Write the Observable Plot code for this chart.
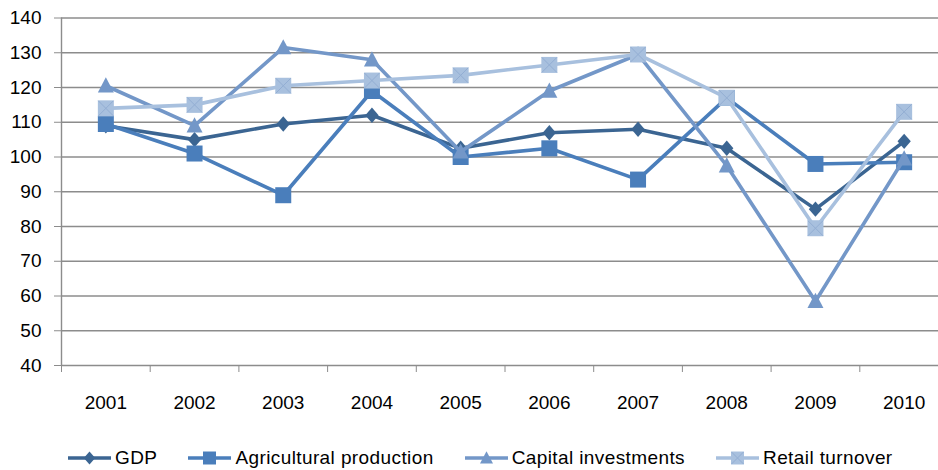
<!DOCTYPE html>
<html><head><meta charset="utf-8">
<script src="https://cdn.jsdelivr.net/npm/d3@7"></script>
<script src="https://cdn.jsdelivr.net/npm/@observablehq/plot@0.6"></script>
<style>
body{margin:0;background:#fff;font-family:"Liberation Sans",Arial,sans-serif;overflow:hidden;}
#chart svg{display:block;overflow:hidden;}
#legend{display:flex;align-items:center;height:30px;padding-top:13px;padding-left:68px;gap:31px;font-size:19px;letter-spacing:0.4px;color:#000;}
.item{display:flex;align-items:center;gap:4px;white-space:nowrap;}
</style></head><body><div id="chart"></div><div id="legend"></div>
<script>
const years = [2001, 2002, 2003, 2004, 2005, 2006, 2007, 2008, 2009, 2010];
const gdp = [109, 105, 109.5, 112, 102.5, 107, 108, 102.5, 85, 104.5];
const agri = [109.5, 101, 89, 119, 100, 102.5, 93.5, 117, 98, 98.5];
const capital = [120.5, 109, 131.5, 128, 101.5, 119, 129.5, 97.5, 58.5, 99.5];
const retail = [114, 115, 120.5, 122, 123.5, 126.5, 129.5, 117, 79.5, 113];
const seriesNames = ["GDP", "Agricultural production", "Capital investments", "Retail turnover"];
const seriesColors = ["#3B6592", "#4A7EBB", "#7397C8", "#A8C0DE"];
const yTicks = [40, 50, 60, 70, 80, 90, 100, 110, 120, 130, 140];

const seriesValues = [gdp, agri, capital, retail];
const rows = seriesValues.map((vals, i) => years.map((year, j) => ({year, value: vals[j], series: seriesNames[i]})));
const bounds = years.map(y => y - 0.5).concat([years[years.length - 1] + 0.5]);

// custom symbols (size = pi r^2)
const rad = size => Math.sqrt(size / Math.PI);
const diamond = {draw(c, s){const r = rad(s); c.moveTo(0,-r*1.1); c.lineTo(r*0.95,0); c.lineTo(0,r*1.1); c.lineTo(-r*0.95,0); c.closePath();}};
const square = {draw(c, s){const r = rad(s); c.rect(-r,-r,2*r,2*r);}};
const triangle = {draw(c, s){const r = rad(s); c.moveTo(0,-r*1.05); c.lineTo(r,r*0.85); c.lineTo(-r,r*0.85); c.closePath();}};
const cross = {draw(c, s){const r = rad(s); c.moveTo(-r,-r); c.lineTo(r,r); c.moveTo(r,-r); c.lineTo(-r,r);}};
const symbols = [diamond, square, triangle, square];
const sizes = [7, 8, 8, 8];

const gridColor = "#8c8c8c";
const marks = [
  Plot.gridY(yTicks, {stroke: gridColor, strokeOpacity: 1, strokeWidth: 1.4}),
  Plot.ruleX([bounds[0]], {stroke: gridColor, strokeWidth: 1.4}),
  Plot.axisY(yTicks, {tickSize: 7, tickPadding: 13, fontSize: 19, stroke: gridColor, fill: "#000", label: null}),
  Plot.axisX(bounds, {tickSize: 7, tickFormat: () => "", stroke: gridColor, label: null}),
  Plot.axisX(years, {tickSize: 0, tickPadding: 30, fontSize: 19, fill: "#000", tickFormat: d => String(d), label: null})
];
rows.forEach((data, i) => {
  marks.push(Plot.lineY(data, {x: "year", y: "value", stroke: seriesColors[i], strokeWidth: 3.6}));
  marks.push(Plot.dot(data, {x: "year", y: "value", symbol: symbols[i], r: sizes[i], fill: seriesColors[i], stroke: "none"}));
  if (i === 3) marks.push(Plot.dot(data, {x: "year", y: "value", symbol: cross, r: 7.5, fill: "none", stroke: "#93AED3", strokeWidth: 1}));
});

const chart = Plot.plot({
  width: 938, height: 430,
  marginLeft: 61, marginRight: -10, marginTop: 17.5, marginBottom: 65,
  x: {type: "linear", domain: [bounds[0], bounds[bounds.length - 1]], axis: null},
  y: {domain: [40, 140], axis: null},
  style: {fontFamily: "'Liberation Sans', Arial, sans-serif", background: "#fff"},
  marks
});
document.getElementById("chart").appendChild(chart);

// legend
const legend = d3.select("#legend");
seriesNames.forEach((name, i) => {
  const item = legend.append("div").attr("class", "item");
  const sw = item.append("svg").attr("width", 43).attr("height", 18);
  sw.append("line").attr("x1", 0).attr("x2", 43).attr("y1", 9).attr("y2", 9).attr("stroke", seriesColors[i]).attr("stroke-width", 3.6);
  const sz = i === 0 ? 6 : 6.5;
  sw.append("path").attr("transform", "translate(21.5,9)").attr("d", d3.symbol(symbols[i], Math.PI * sz * sz)()).attr("fill", seriesColors[i]);
  if (i === 3) sw.append("path").attr("transform", "translate(21.5,9)").attr("d", d3.symbol(cross, Math.PI * 36)()).attr("fill", "none").attr("stroke", "#93AED3").attr("stroke-width", 1);
  item.append("span").text(name);
});
</script></body></html>
